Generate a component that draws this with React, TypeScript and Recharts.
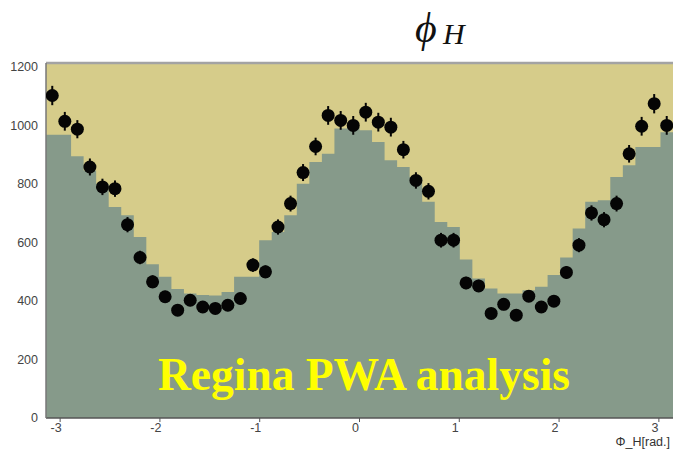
import React from 'react';
import { ComposedChart, Area, Scatter, ErrorBar, XAxis, YAxis, CartesianGrid, ReferenceLine } from 'recharts';

const N_BINS = 50;
const X_MIN = -Math.PI;
const X_MAX = Math.PI;
const xTicks = [-3, -2, -1, 0, 1, 2, 3];
const yTicks = [0, 200, 400, 600, 800, 1000, 1200];

// data points (counts per bin)
const dataCounts = [1101, 1013, 986, 857, 789, 783, 660, 548, 465, 414, 368, 402, 379, 374, 385, 408, 522, 499, 652, 732, 838, 927, 1033, 1016, 999, 1044, 1010, 993, 916, 811, 774, 607, 607, 461, 451, 357, 388, 351, 416, 379, 399, 497, 590, 700, 677, 732, 902, 996, 1073, 999];
const dataErrors = [33, 32, 31, 29, 28, 28, 26, 23, 22, 20, 19, 20, 19, 19, 20, 20, 23, 22, 26, 27, 29, 30, 32, 32, 32, 32, 32, 32, 30, 28, 28, 25, 25, 21, 21, 19, 20, 19, 20, 19, 20, 22, 24, 26, 26, 27, 30, 32, 33, 32];
// grey filled histogram (model)
const mcCounts = [967, 967, 894, 845, 800, 720, 692, 618, 525, 482, 440, 425, 420, 418, 430, 482, 482, 607, 635, 692, 800, 874, 902, 988, 993, 982, 942, 880, 857, 823, 738, 669, 652, 541, 476, 442, 425, 425, 436, 448, 488, 548, 647, 738, 743, 823, 863, 925, 925, 976];

const TAN = '#d6cc8a';
const GREY = '#869a8a';

const renderDot = (props: any) => {
  const { cx, cy } = props;
  if (cx == null || cy == null) return <g />;
  return <circle cx={cx} cy={cy} r={6.5} fill="#050505" />;
};

export default function App() {
  const edges = Array.from({ length: N_BINS + 1 }, (_, i) => X_MIN + (i * (X_MAX - X_MIN)) / N_BINS);
  const histData = edges.map((x, i) => ({ x, y: mcCounts[Math.min(i, N_BINS - 1)] }));
  const pointData = dataCounts.map((y, i) => ({ x: (edges[i] + edges[i + 1]) / 2, y, err: dataErrors[i] }));
  const labelFont = { fill: '#444', fontSize: 12.5, fontFamily: '"Liberation Sans", Arial, sans-serif' };

  return (
    <div style={{ position: 'absolute', left: 0, top: 0, width: 673, height: 452, background: '#fff', overflow: 'hidden' }}>
      <ComposedChart width={673} height={452} margin={{ top: 63, right: 0, bottom: 0, left: 0 }}>
        <CartesianGrid horizontal={false} vertical={false} fill={TAN} fillOpacity={1} />
        <XAxis
          type="number"
          dataKey="x"
          domain={[X_MIN, X_MAX]}
          ticks={xTicks}
          allowDataOverflow
          interval={0}
          height={34}
          tick={{ ...labelFont, dx: -4 }}
          tickSize={4}
          tickMargin={1}
          axisLine={{ stroke: '#555', strokeWidth: 1.5 }}
          tickLine={{ stroke: '#555' }}
        />
        <YAxis
          type="number"
          dataKey="y"
          domain={[0, 1212]}
          ticks={yTicks}
          allowDataOverflow
          interval={0}
          width={46}
          tickLine={false}
          tickSize={6}
          tickMargin={2}
          axisLine={{ stroke: '#777', strokeWidth: 1.5 }}
          tick={labelFont}
        />
        <Area
          data={histData}
          dataKey="y"
          type="stepAfter"
          fill={GREY}
          fillOpacity={1}
          stroke="none"
          isAnimationActive={false}
          dot={false}
          activeDot={false}
        />
        <ReferenceLine y={1212} stroke="#a3a3a3" strokeWidth={2.5} />
        <Scatter data={pointData} dataKey="y" fill="#050505" shape={renderDot} isAnimationActive={false}>
          <ErrorBar dataKey="err" direction="y" width={0} stroke="#050505" strokeWidth={2} />
        </Scatter>
      </ComposedChart>
      <svg width={673} height={452} style={{ position: 'absolute', left: 0, top: 0, pointerEvents: 'none' }}>
        <text x={415} y={42} fontSize={42} fontStyle="italic" fontFamily='"Liberation Serif", "DejaVu Serif", serif' fill="#111">ϕ</text>
        <text x={443} y={44} fontSize={30} fontStyle="italic" fontFamily='"Liberation Serif", "DejaVu Serif", serif' fill="#111">H</text>
        <text x={670} y={446} fontSize={12.5} textAnchor="end" fontFamily='"Liberation Sans", Arial, sans-serif' fill="#333">Φ_H[rad.]</text>
        <text x={364} y={390} fontSize={45.5} fontWeight="bold" textAnchor="middle" fontFamily='"Liberation Serif", "Times New Roman", serif' fill="#ffff00">Regina PWA analysis</text>
      </svg>
    </div>
  );
}
